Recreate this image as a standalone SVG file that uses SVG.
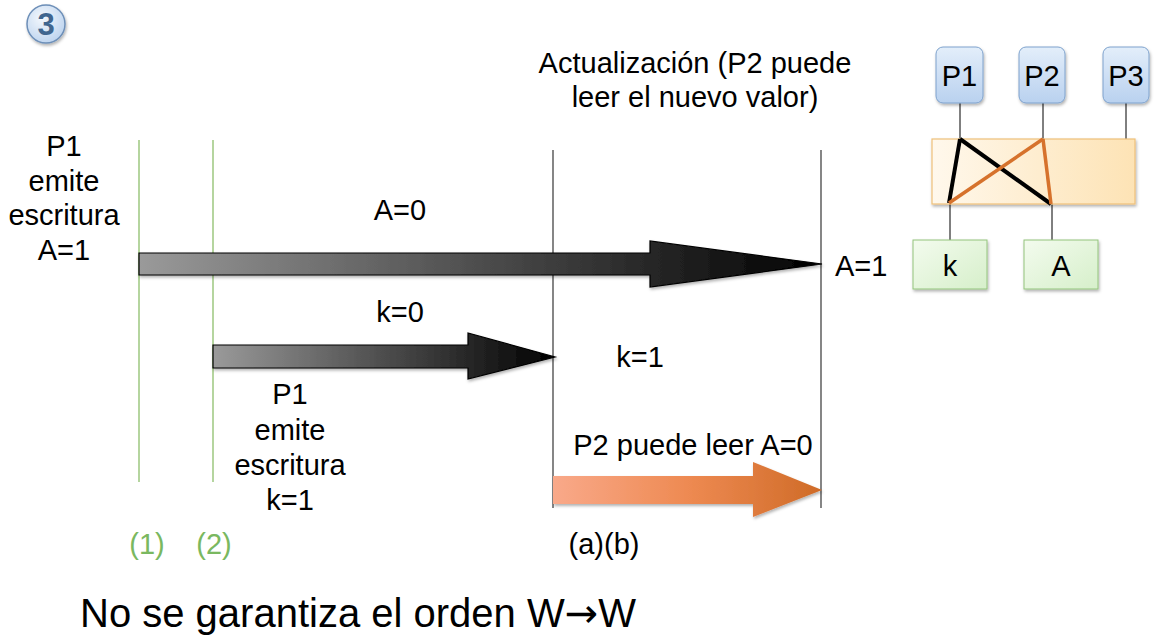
<svg xmlns="http://www.w3.org/2000/svg" width="1159" height="638" viewBox="0 0 1159 638">
<defs>
<linearGradient id="gBlack" x1="0" y1="0" x2="1" y2="0"><stop offset="0" stop-color="#9a9a9a"/><stop offset="1" stop-color="#000"/></linearGradient>
<linearGradient id="gOrange" x1="0" y1="0" x2="1" y2="0"><stop offset="0" stop-color="#f9a98a"/><stop offset="0.5" stop-color="#ee8a52"/><stop offset="1" stop-color="#cf6b27"/></linearGradient>
<linearGradient id="gBlue" x1="0" y1="0" x2="0" y2="1"><stop offset="0" stop-color="#e3eefa"/><stop offset="1" stop-color="#b9d1ef"/></linearGradient>
<linearGradient id="gMem" x1="0" y1="0" x2="1" y2="0"><stop offset="0" stop-color="#fff8ec"/><stop offset="1" stop-color="#fde3b5"/></linearGradient>
<linearGradient id="gGreen" x1="0" y1="0" x2="1" y2="1"><stop offset="0" stop-color="#f3fbee"/><stop offset="1" stop-color="#d6efca"/></linearGradient>
<radialGradient id="gBadge" cx="0.4" cy="0.35" r="0.7"><stop offset="0" stop-color="#f4f8fd"/><stop offset="1" stop-color="#bcd3ee"/></radialGradient>
<filter id="sh" x="-20%" y="-20%" width="140%" height="160%"><feDropShadow dx="1" dy="2" stdDeviation="1.5" flood-color="#000" flood-opacity="0.3"/></filter>
</defs>
<style>
text{font-family:"Liberation Sans",Arial,sans-serif;fill:#000}
.t{font-size:29px}
.m{text-anchor:middle}
.g{fill:#7ab860}
.vg{stroke:#9cc77f;stroke-width:1.5}
.vk{stroke:#444;stroke-width:1.3}
.proc{fill:url(#gBlue);stroke:#7ea2cd;stroke-width:1}
.var{fill:url(#gGreen);stroke:#93c47d;stroke-width:1}
.thin{stroke:#000;stroke-width:1}
</style>

<g id="badge">
<circle cx="46" cy="24" r="19" fill="url(#gBadge)" stroke="#6d8fb8" stroke-width="1.5" filter="url(#sh)"/>
<text x="46" y="35" class="m" style="font-size:31px;font-weight:bold;fill:#40668f">3</text>
</g>

<g id="timelines">
<line class="vg" x1="139" y1="140" x2="139" y2="482"/>
<line class="vg" x1="213" y1="140" x2="213" y2="482"/>
<line class="vk" x1="553" y1="150" x2="553" y2="508"/>
<line class="vk" x1="821" y1="150" x2="821" y2="508"/>
</g>

<g id="connectors">
<polygon id="arrowA" points="139,253 650,253 650,241 822,264 650,287 650,275 139,275" fill="url(#gBlack)" stroke="#000" stroke-width="1.2" filter="url(#sh)"/>
<polygon id="arrowK" points="213,345 468,345 468,333 555,357 468,379 468,368 213,368" fill="url(#gBlack)" stroke="#000" stroke-width="1.2" filter="url(#sh)"/>
<polygon id="arrowP2" points="553,476 753,476 753,462 822,490 753,517 753,504 553,504" fill="url(#gOrange)" filter="url(#sh)"/>
</g>

<g id="labels">
<text class="t m" x="695" y="73">Actualización (P2 puede</text>
<text class="t m" x="695" y="107">leer el nuevo valor)</text>
<text class="t m" x="64" y="156">P1</text>
<text class="t m" x="64" y="191">emite</text>
<text class="t m" x="64" y="225">escritura</text>
<text class="t m" x="64" y="260">A=1</text>
<text class="t m" x="400" y="220">A=0</text>
<text class="t" x="835" y="276">A=1</text>
<text class="t m" x="400" y="322">k=0</text>
<text class="t m" x="640" y="367">k=1</text>
<text class="t m" x="290" y="404">P1</text>
<text class="t m" x="290" y="440">emite</text>
<text class="t m" x="290" y="475">escritura</text>
<text class="t m" x="290" y="510">k=1</text>
<text class="t m" x="693" y="455">P2 puede leer A=0</text>
<text class="t m g" x="147" y="554">(1)</text>
<text class="t m g" x="214" y="554">(2)</text>
<text class="t m" x="604" y="554">(a)(b)</text>
<text x="80" y="627" style="font-size:40px">No se garantiza el orden W<tspan style="font-family:'DejaVu Sans',sans-serif;font-size:40px">→</tspan>W</text>
</g>

<g id="memory">
<line class="thin" x1="960" y1="103" x2="960" y2="139"/>
<line class="thin" x1="1043" y1="103" x2="1043" y2="139"/>
<line class="thin" x1="1126" y1="103" x2="1126" y2="139"/>
<line class="thin" x1="950" y1="204" x2="950" y2="240"/>
<line class="thin" x1="1052" y1="204" x2="1052" y2="240"/>
<rect x="932" y="139" width="203" height="65" fill="url(#gMem)" stroke="#eec07a" stroke-width="1.2" filter="url(#sh)"/>
<line x1="960" y1="139" x2="949" y2="203" stroke="#000" stroke-width="4"/>
<line x1="960" y1="139" x2="1051" y2="204" stroke="#000" stroke-width="4"/>
<line x1="1043" y1="139" x2="949" y2="203" stroke="#d6722c" stroke-width="3.5"/>
<line x1="1043" y1="139" x2="1051" y2="204" stroke="#d6722c" stroke-width="3.5"/>
</g>

<g id="P1"><rect class="proc" x="936" y="47" width="47" height="56" rx="7" filter="url(#sh)"/><text class="t m" x="959.5" y="86">P1</text></g>
<g id="P2"><rect class="proc" x="1019" y="47" width="46" height="56" rx="7" filter="url(#sh)"/><text class="t m" x="1042" y="86">P2</text></g>
<g id="P3"><rect class="proc" x="1103" y="47" width="46" height="56" rx="7" filter="url(#sh)"/><text class="t m" x="1126" y="86">P3</text></g>
<g id="k"><rect class="var" x="913" y="240" width="74" height="49" filter="url(#sh)"/><text class="t m" x="950" y="276">k</text></g>
<g id="A"><rect class="var" x="1024" y="240" width="74" height="49" filter="url(#sh)"/><text class="t m" x="1061" y="276">A</text></g>
</svg>
